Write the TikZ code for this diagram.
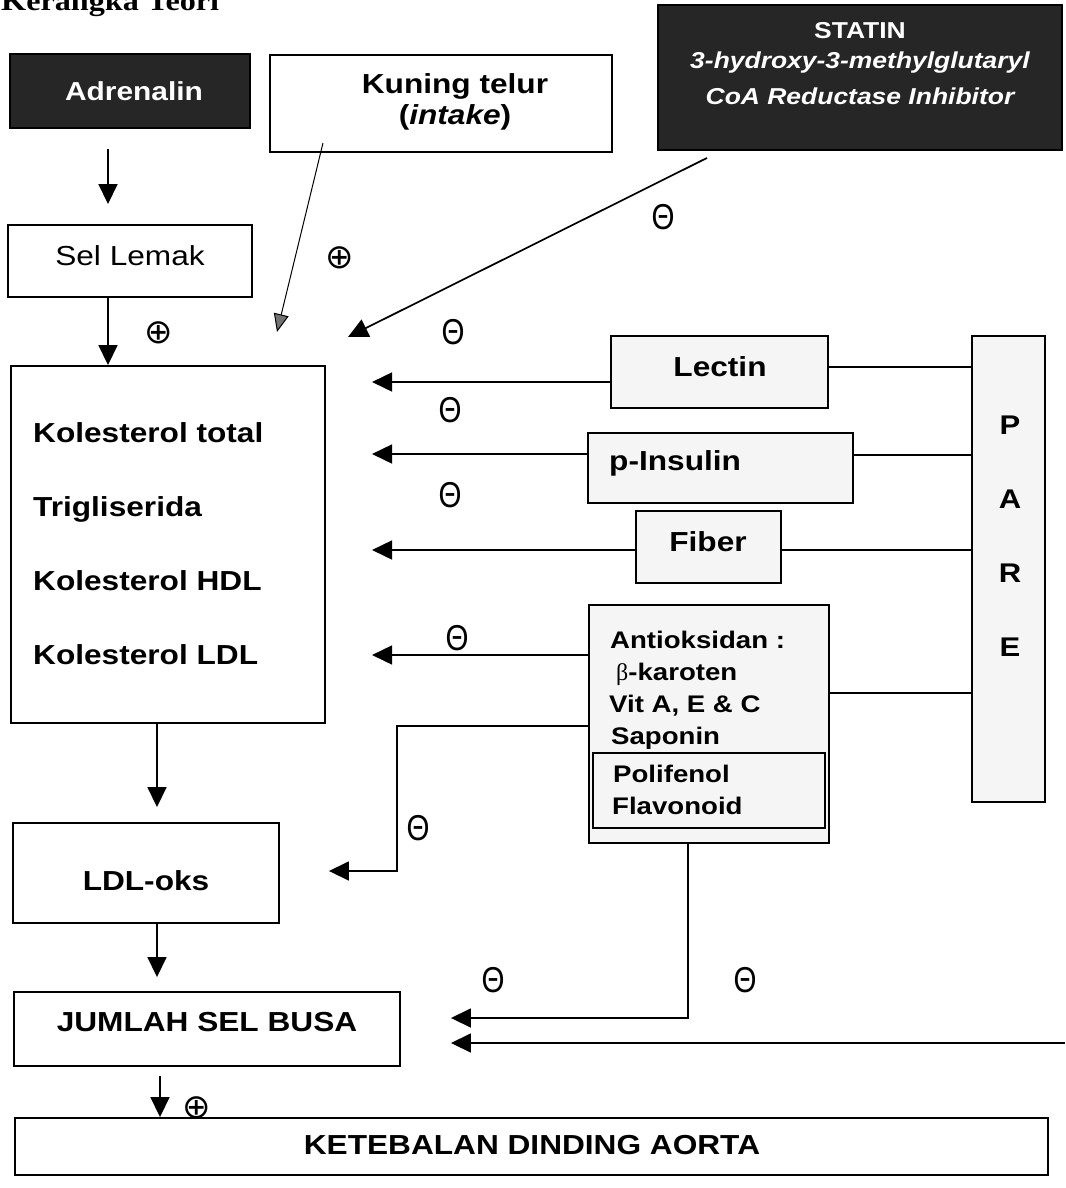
\documentclass[tikz,border=0pt]{standalone}
\usepackage{fontspec}
\usepackage{graphicx}
\setmainfont{Liberation Sans}[FakeStretch=1.15]
\newfontfamily\titleserif{Liberation Serif}[FakeStretch=1.15]
\newfontfamily\symfont{DejaVu Sans}
\newfontfamily\greekfont{Liberation Serif}
\newfontfamily\thetafont{Liberation Sans}
\usetikzlibrary{arrows.meta,calc}
\newcommand\sgnminus{\scalebox{0.82}[1]{\thetafont\fontsize{36}{36}\selectfont Θ}}
\newcommand\sgnplus{{\symfont\fontsize{34}{34}\selectfont ⊕}}
\tikzset{
  box/.style={draw=black, line width=1.9pt, inner sep=0pt, fill=white},
  dbox/.style={box, fill=black!85},
  sbox/.style={box, fill=black!4},
  txt/.style={inner sep=0pt, font=\fontsize{27.5}{32}\selectfont\bfseries},
  rtxt/.style={inner sep=0pt, font=\fontsize{27.5}{32}\selectfont},
  stxt/.style={inner sep=0pt, font=\fontsize{24}{28}\selectfont\bfseries},
  ptxt/.style={inner sep=0pt, font=\fontsize{27}{30}\selectfont\bfseries},
  wtxt/.style={inner sep=0pt, text=white, font=\fontsize{23}{28}\selectfont\bfseries},
  sign/.style={inner sep=0pt},
  arr/.style={line width=1.7pt, -{Triangle[length=20pt,width=19pt]}},
  hatch/.style={line width=1pt, -{Triangle[length=18pt,width=15pt,fill=black!55]}},
  link/.style={line width=1.3pt}
}
\begin{document}
\begin{tikzpicture}[x=1pt,y=-1pt]
\useasboundingbox (0,0) rectangle (1065,1188);
\fill[white] (0,0) rectangle (1065,1188);

% title (cut at top, as in the reference)
\node[inner sep=0pt, anchor=base west, font=\titleserif\fontsize{28}{32}\selectfont\bfseries] (title) at (1,11) {Kerangka Teori};

% boxes
\node[dbox, minimum width=240, minimum height=74] (adr) at (130,91) {};
\node[box, minimum width=342, minimum height=97] (kun) at (441,103.5) {};
\node[dbox, minimum width=404, minimum height=145] (sta) at (860,77.5) {};
\node[box, minimum width=244, minimum height=72] (sel) at (130,261) {};
\node[box, minimum width=314, minimum height=357] (kol) at (168,544.5) {};
\node[sbox, minimum width=217, minimum height=72] (lec) at (719.5,372) {};
\node[sbox, minimum width=265, minimum height=70] (ins) at (720.5,468) {};
\node[sbox, minimum width=145, minimum height=72] (fib) at (708.5,547) {};
\node[sbox, minimum width=240, minimum height=238] (ant) at (709,724) {};
\node[sbox, minimum width=232, minimum height=75] (pol) at (709,790.5) {};
\node[sbox, minimum width=73, minimum height=466] (pare) at (1008.5,569) {};
\node[box, minimum width=266, minimum height=100] (ldl) at (146,873) {};
\node[box, minimum width=386, minimum height=74] (jum) at (207,1029) {};
\node[box, minimum width=1033, minimum height=57] (ket) at (531.5,1146.5) {};

% texts
\node[wtxt, font=\fontsize{26}{30}\selectfont\bfseries] (tadr) at (134,91) {Adrenalin};
\node[txt] (tkun1) at (455,86) {Kuning telur};
\node[txt] (tkun2) at (455,117) {(\textit{intake})};
\node[wtxt] (tsta1) at (860,31) {STATIN};
\node[wtxt, font=\fontsize{23}{28}\selectfont\bfseries\itshape] (tsta2) at (860,63) {3-hydroxy-3-methylglutaryl};
\node[wtxt, font=\fontsize{23}{28}\selectfont\bfseries\itshape] (tsta3) at (860,96) {CoA Reductase Inhibitor};
\node[rtxt] (tsel) at (130,256) {Sel Lemak};
\node[txt, anchor=base west] (tk1) at (33,442) {Kolesterol total};
\node[txt, anchor=base west] (tk2) at (33,516) {Trigliserida};
\node[txt, anchor=base west] (tk3) at (33,590) {Kolesterol HDL};
\node[txt, anchor=base west] (tk4) at (33,664) {Kolesterol LDL};
\node[txt] (tlec) at (720,367) {Lectin};
\node[txt, anchor=west] (tins) at (609,463) {p-Insulin};
\node[txt] (tfib) at (708,542) {Fiber};
\node[stxt, anchor=base west] (ta1) at (610,648) {Antioksidan :};
\node[stxt, anchor=base west] (ta2) at (616,680) {{\greekfont\mdseries β}-karoten};
\node[stxt, anchor=base west] (ta3) at (609,712) {Vit A, E \& C};
\node[stxt, anchor=base west] (ta4) at (611,744) {Saponin};
\node[stxt, anchor=base west] (ta5) at (613,782) {Polifenol};
\node[stxt, anchor=base west] (ta6) at (612,814) {Flavonoid};
\node[ptxt] (tp1) at (1010,425) {P};
\node[ptxt] (tp2) at (1010,499) {A};
\node[ptxt] (tp3) at (1010,573) {R};
\node[ptxt] (tp4) at (1010,647) {E};
\node[txt] (tldl) at (146,881) {LDL-oks};
\node[txt] (tjum) at (207,1022) {JUMLAH SEL BUSA};
\node[txt] (tket) at (532,1145) {KETEBALAN DINDING AORTA};

% signs
\node[sign] (p1) at (159,333) {\sgnplus};
\node[sign] (p2) at (340,258) {\sgnplus};
\node[sign] (p3) at (197,1108) {\sgnplus};
\node[sign] (m1) at (663,217) {\sgnminus};
\node[sign] (m2) at (453,332) {\sgnminus};
\node[sign] (m3) at (450,410) {\sgnminus};
\node[sign] (m4) at (450,495) {\sgnminus};
\node[sign] (m5) at (457,638) {\sgnminus};
\node[sign] (m6) at (418,828) {\sgnminus};
\node[sign] (m7) at (493,980) {\sgnminus};
\node[sign] (m8) at (745,980) {\sgnminus};

% free ends
\coordinate (kuntip) at (277,332);
\coordinate (statip) at (348,337);
\coordinate (rightend) at (1065,1043);

% connectors
\draw[arr] ([shift={(-22,20)}]adr.south) -- ([shift={(-22,-20)}]sel.north);
\draw[arr] ([shift={(-22,0)}]sel.south) -- ([shift={(-60,0)}]kol.north);
\draw[hatch] ([shift={(-118,-10)}]kun.south) -- (kuntip);
\draw[arr] ([shift={(-153,7)}]sta.south) -- (statip);

\draw[arr] ([shift={(0,10)}]lec.west) -- ++(-238,0);
\draw[arr] ([shift={(0,-14)}]ins.west) -- ++(-215,0);
\draw[arr] ([shift={(0,3)}]fib.west) -- ++(-263,0);
\draw[arr] ([shift={(0,-69)}]ant.west) -- ++(-216,0);
\draw[arr] ([shift={(0,2)}]ant.west) -- ++(-191,0) |- ([shift={(49,-2)}]ldl.east);

\draw[link] ([shift={(0,-5)}]lec.east) -- ++(144,0);
\draw[link] ([shift={(0,-13)}]ins.east) -- ++(119,0);
\draw[link] ([shift={(0,3)}]fib.east) -- ++(191,0);
\draw[link] ([shift={(0,-31)}]ant.east) -- ++(143,0);

\draw[arr] ([shift={(-11,0)}]kol.south) -- ([shift={(11,-15)}]ldl.north);
\draw[arr] ([shift={(11,0)}]ldl.south) -- ([shift={(-50,-14)}]jum.north);
\draw[arr] ([shift={(-21,0)}]ant.south) |- ([shift={(50,-11)}]jum.east);
\draw[arr] (rightend) -- ([shift={(50,14)}]jum.east);
\draw[arr] ([shift={(-47,9)}]jum.south) -- ([shift={(-371.5,0)}]ket.north);
\end{tikzpicture}
\end{document}
